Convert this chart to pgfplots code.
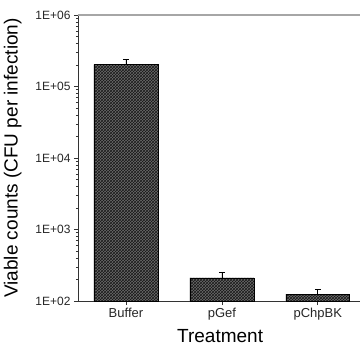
\documentclass[border=0pt]{standalone}
\usepackage{pgfplots}
\pgfplotsset{compat=1.18}
\usepackage{fontspec}
\setmainfont{Liberation Sans}
\usetikzlibrary{patterns}
\begin{document}
\begin{tikzpicture}
\begin{axis}[
  scale only axis, width=282pt, height=286pt,
  ymode=log, ymin=100, ymax=1e6, log origin=infty,
  xmin=-0.5, xmax=2.44,
  axis x line*=bottom, axis y line*=left,
  axis line style={-, black!80, line width=0.8pt},
  xtick={0,1,2}, xticklabels={Buffer,pGef,pChpBK},
  ytick={100,1000,10000,100000,1000000},
  yticklabels={1E+02,1E+03,1E+04,1E+05,1E+06},
  yminorticks=true,
  minor ytick={200,300,400,500,600,700,800,900,2000,3000,4000,5000,6000,7000,8000,9000,20000,30000,40000,50000,60000,70000,80000,90000,200000,300000,400000,500000,600000,700000,800000,900000},
  tick align=outside, major tick length=4pt, minor tick length=2pt,
  tick style={black!80, line width=0.6pt},
  xticklabel style={font=\fontsize{13}{15}\selectfont, black!85},
  yticklabel style={font=\fontsize{12}{14}\selectfont, black!85},
  xlabel={Treatment},
  ylabel={Viable counts (CFU per infection)},
  xlabel style={font=\fontsize{19}{22}\selectfont, at={(axis description cs:0.504,-0.1434)}, anchor=base},
  ylabel style={font=\fontsize{19}{22}\selectfont, at={(axis description cs:-0.188,0.5)}, anchor=south, rotate=0},
]
\addplot+[ybar, bar width=0.667, draw=black, line width=0.6pt, fill=black!58,
  postaction={pattern=crosshatch, pattern color=black!90}, mark=none,
  error bars/.cd, y dir=plus, y explicit,
  error bar style={black, line width=0.6pt},
  error mark options={rotate=90, mark size=3pt, black, line width=0.6pt}]
  coordinates {
  (0,2.03e5) +- (0,0.37e5)
  (1,210) +- (0,40)
  (2,125) +- (0,22)
  };
\draw[gray!70, line width=1.2pt] (rel axis cs:0,1) -- (rel axis cs:1,1);
\end{axis}
\path (current axis.south west) ++(-78pt,-45pt) coordinate (bl);
\path (current axis.north east) ++(1pt,15pt) coordinate (tr);
\path[use as bounding box] (bl) rectangle (tr);
\end{tikzpicture}
\end{document}
